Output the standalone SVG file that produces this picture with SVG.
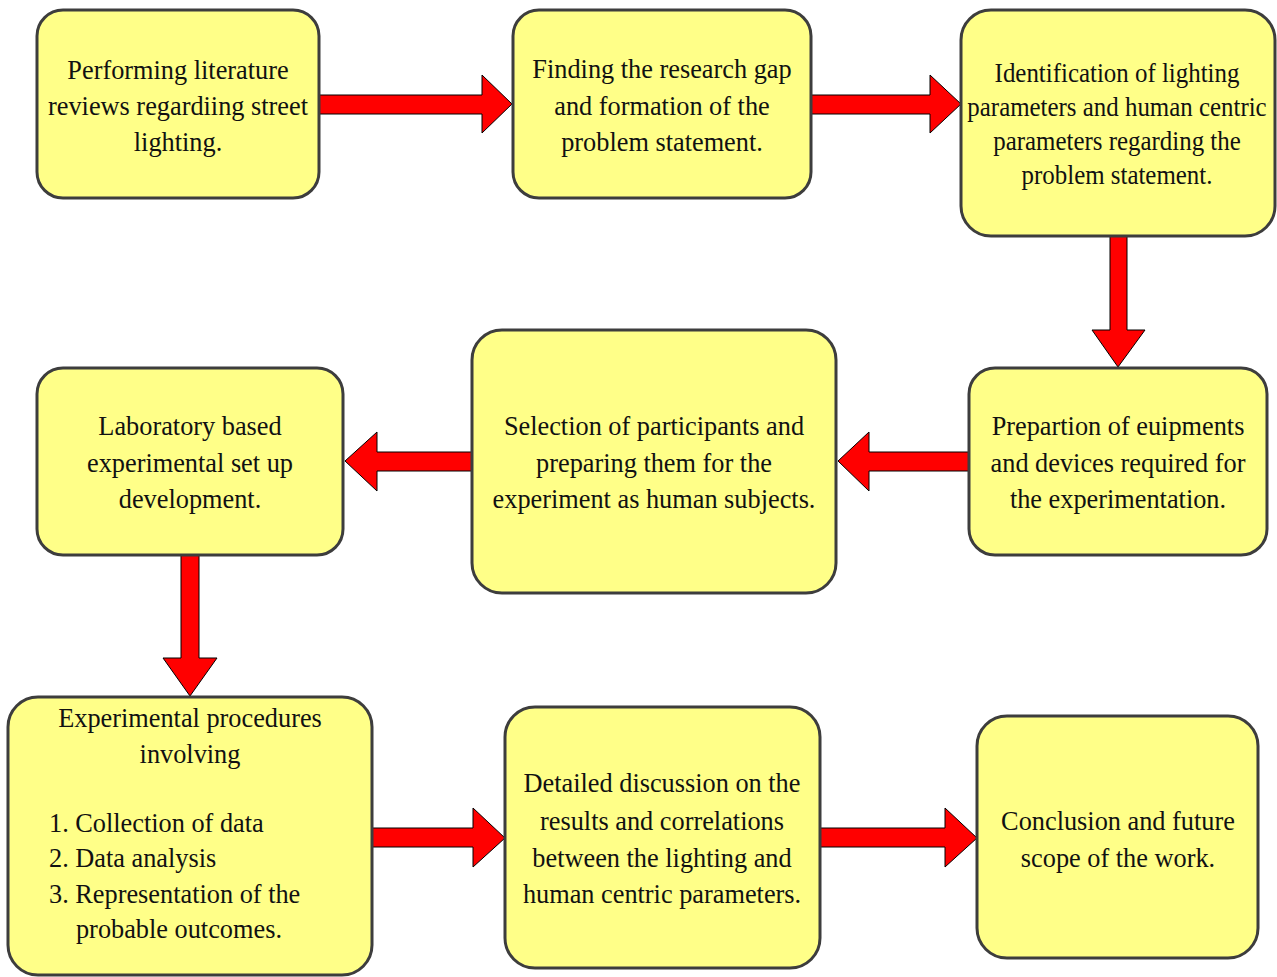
<svg xmlns="http://www.w3.org/2000/svg" width="1277" height="977" viewBox="0 0 1277 977">
<style>
.box{fill:#ffff88;stroke:#3d3d3d;stroke-width:3}
.arr{fill:#ff0000;stroke:#000;stroke-width:1}
text{font-family:"Liberation Serif","Times New Roman",serif;font-size:28px;fill:#111}
.c{text-anchor:middle}
.s{font-size:26.5px}
</style>
<rect width="1277" height="977" fill="#fff"/>
<g id="connectors">
<polygon class="arr" points="319,95 482,95 482,75 512,104 482,133 482,114 319,114"/>
<polygon class="arr" points="811,95 930,95 930,75 961,104 930,133 930,114 811,114"/>
<polygon class="arr" points="1110,236 1127,236 1127,330 1145,330 1118,367 1092,330 1110,330"/>
<polygon class="arr" points="969,452 869,452 869,432 838,461 869,491 869,471 969,471"/>
<polygon class="arr" points="472,452 377,452 377,432 345,461 377,491 377,471 472,471"/>
<polygon class="arr" points="181,555 199,555 199,658 217,658 190,696 163,658 181,658"/>
<polygon class="arr" points="372,828 473,828 473,808 505,838 473,867 473,847 372,847"/>
<polygon class="arr" points="820,828 945,828 945,808 977,838 945,867 945,847 820,847"/>
</g>
<g id="n1">
<rect class="box" x="37" y="10" width="282" height="188" rx="26"/>
<g transform="translate(178,0) scale(0.94,1)">
<text class="c" x="0" y="79">Performing literature</text>
<text class="c" x="0" y="115">reviews regardiing street</text>
<text class="c" x="0" y="151">lighting.</text>
</g>
</g>
<g id="n2">
<rect class="box" x="513" y="10" width="298" height="188" rx="26"/>
<g transform="translate(662,0) scale(0.94,1)">
<text class="c" x="0" y="78">Finding the research gap</text>
<text class="c" x="0" y="115">and formation of the</text>
<text class="c" x="0" y="151">problem statement.</text>
</g>
</g>
<g id="n3">
<rect class="box" x="961" y="10" width="314" height="226" rx="30"/>
<g transform="translate(1117,0) scale(0.94,1)">
<text class="c s" x="0" y="82">Identification of lighting</text>
<text class="c s" x="0" y="116">parameters and human centric</text>
<text class="c s" x="0" y="150">parameters regarding the</text>
<text class="c s" x="0" y="184">problem statement.</text>
</g>
</g>
<g id="n4">
<rect class="box" x="969" y="368" width="298" height="187" rx="26"/>
<g transform="translate(1118,0) scale(0.94,1)">
<text class="c" x="0" y="435">Prepartion of euipments</text>
<text class="c" x="0" y="472">and devices required for</text>
<text class="c" x="0" y="508">the experimentation.</text>
</g>
</g>
<g id="n5">
<rect class="box" x="472" y="330" width="364" height="263" rx="30"/>
<g transform="translate(654,0) scale(0.94,1)">
<text class="c" x="0" y="435">Selection of participants and</text>
<text class="c" x="0" y="472">preparing them for the</text>
<text class="c" x="0" y="508">experiment as human subjects.</text>
</g>
</g>
<g id="n6">
<rect class="box" x="37" y="368" width="306" height="187" rx="26"/>
<g transform="translate(190,0) scale(0.94,1)">
<text class="c" x="0" y="435">Laboratory based</text>
<text class="c" x="0" y="472">experimental set up</text>
<text class="c" x="0" y="508">development.</text>
</g>
</g>
<g id="n7">
<rect class="box" x="8" y="697" width="364" height="278" rx="30"/>
<g transform="translate(190,0) scale(0.94,1)">
<text class="c" x="0" y="727">Experimental procedures</text>
<text class="c" x="0" y="763">involving</text>
</g>
<g transform="translate(49,0) scale(0.94,1)">
<text x="0" y="832">1. Collection of data</text>
<text x="0" y="867">2. Data analysis</text>
<text x="0" y="903">3. Representation of the</text>
<text x="28.7" y="938">probable outcomes.</text>
</g>
</g>
<g id="n8">
<rect class="box" x="505" y="707" width="315" height="261" rx="30"/>
<g transform="translate(662,0) scale(0.94,1)">
<text class="c" x="0" y="792">Detailed discussion on the</text>
<text class="c" x="0" y="830">results and correlations</text>
<text class="c" x="0" y="867">between the lighting and</text>
<text class="c" x="0" y="903">human centric parameters.</text>
</g>
</g>
<g id="n9">
<rect class="box" x="977" y="716" width="281" height="242" rx="30"/>
<g transform="translate(1118,0) scale(0.94,1)">
<text class="c" x="0" y="830">Conclusion and future</text>
<text class="c" x="0" y="867">scope of the work.</text>
</g>
</g>
</svg>
